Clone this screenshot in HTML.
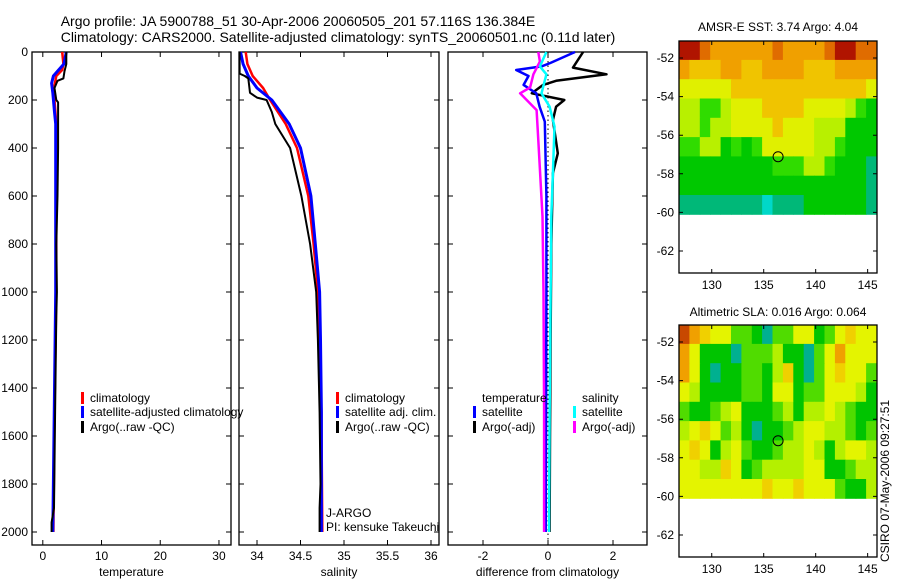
<!DOCTYPE html>
<html><head><meta charset="utf-8"><style>
html,body{margin:0;padding:0;background:#fff;}
svg{display:block;font-family:"Liberation Sans",sans-serif;}
</style></head><body>
<svg id="fig" width="900" height="580" viewBox="0 0 900 580" xmlns="http://www.w3.org/2000/svg">
<text x="298" y="26" font-size="14" text-anchor="middle">Argo profile: JA 5900788_51 30-Apr-2006 20060505_201 57.116S 136.384E</text>
<text x="338" y="42" font-size="14" text-anchor="middle">Climatology: CARS2000. Satellite-adjusted climatology: synTS_20060501.nc (0.11d later)</text>
<g id="g"></g>
<text x="778" y="31" font-size="12" text-anchor="middle">AMSR-E SST: 3.74 Argo: 4.04</text>
<text x="778" y="316" font-size="12" text-anchor="middle">Altimetric SLA: 0.016 Argo: 0.064</text>
<text transform="translate(889,562) rotate(-90)" font-size="12">CSIRO 07-May-2006 09:27:51</text>
<text x="326" y="517" font-size="12">J-ARGO</text>
<text x="326" y="531" font-size="12">PI: kensuke Takeuchi</text>
</svg>
<script>
// ---- data ----
const tDepth = [0,50,75,100,150,200,300,600,1000,1500,2000];
const tClim  = [3.3,3.5,3.3,2.3,1.9,2.0,2.3,2.3,2.3,2.0,1.8];
const tSatDepth = [0,50,80,100,130,170,250,300,1000,2000];
const tSat   = [4.0,3.6,2.5,1.8,1.5,1.7,2.0,2.2,2.2,1.7];
const tArgoDepth = [0,50,80,110,120,150,200,210,250,400,600,800,1000,1100,1500,1900,1960,2000];
const tArgo  = [4.0,4.0,3.7,3.5,2.5,2.0,2.3,2.6,2.6,2.6,2.5,2.3,2.4,2.3,2.1,1.9,1.5,1.5];

const sDepth = [0,50,100,150,200,300,400,600,800,1000,1200,1500,2000];
const sClim  = [33.87,33.89,33.95,34.07,34.15,34.33,34.46,34.59,34.65,34.7,34.72,34.74,34.75];
const sSat   = [33.81,33.84,33.9,34.0,34.17,34.37,34.5,34.62,34.67,34.72,34.73,34.74,34.74];
const sArgoDepth = [0,90,100,110,170,190,200,250,300,400,600,800,1000,1200,1500,1800,1900,2000];
const sArgo  = [33.8,33.8,33.86,33.9,33.92,34.0,34.11,34.17,34.21,34.38,34.51,34.61,34.68,34.7,34.72,34.73,34.72,34.72];

const dTSatDepth = [0,46,60,75,100,137,172,228,290,600,1000,1500,2000];
const dTSat  = [0.83,0.07,-0.2,-0.98,-0.6,-0.75,-0.36,-0.26,-0.1,-0.05,-0.05,-0.06,-0.07];
const dTArgoDepth = [0,65,93,120,137,172,200,228,283,422,505,800,1200,1600,2000];
const dTArgo = [1.08,0.77,1.8,0.25,-0.15,-0.5,0.5,0.25,0.15,0.3,0.15,0.1,0.08,0.06,0.05];
const dSSatDepth = [0,60,93,172,228,311,505,685,1000,1500,2000];
const dSSat  = [-0.05,-0.25,-0.05,-0.2,0.05,0.2,0.15,0.1,0.08,0.05,0.03];
const dSArgoDepth = [0,40,93,148,172,242,367,685,1000,1500,2000];
const dSArgo = [-0.3,-0.25,-0.45,-0.55,-0.86,-0.35,-0.3,-0.17,-0.14,-0.12,-0.12];

const depthTicks = [0,200,400,600,800,1000,1200,1400,1600,1800,2000];
const tTicks = [0,10,20,30];
const sTicks = [34,34.5,35,35.5,36];
const dTicks = [-2,0,2];
const lonTicks = [130,135,140,145];
const latTicks = [-52,-54,-56,-58,-60,-62];

// SST colour-level grid: rows lat -51..-60 (1 deg), cols lon 127..146
const sstGrid = [
[9,9,8,7,7,7,7,7,7,8,7,7,7,7,8,9,9,8,8],
[7,6,6,6,7,7,6,6,7,7,7,7,6,6,6,7,7,7,7],
[5,5,5,5,5,6,6,6,6,6,6,6,6,6,6,6,6,6,5],
[4,4,3,3,4,5,5,5,6,6,6,6,5,5,5,5,4,3,2],
[4,4,3,4,4,5,5,5,5,6,5,5,5,4,4,4,2,2,2],
[3,3,4,4,2,3,2,3,5,5,5,5,5,4,4,3,2,2,2],
[2,2,2,2,2,2,2,2,2,3,3,3,4,4,3,2,2,2,1],
[2,2,2,2,2,2,2,2,2,2,2,2,2,2,2,2,2,2,1],
[1,1,1,1,1,1,1,1,0,1,1,1,2,2,2,2,2,2,1]];
const slaGrid = [
[7,6,5,4,4,2,2,1,0,2,2,4,4,1,2,4,5,4,4],
[6,4,1,1,1,0,2,2,2,3,1,1,0,2,4,6,4,4,4],
[6,4,1,0,1,1,2,2,1,3,5,1,0,2,4,5,4,4,2],
[4,3,1,1,1,1,2,2,1,4,4,1,2,2,4,4,4,3,1],
[2,1,1,2,3,4,1,1,1,2,3,1,3,3,4,3,2,1,1],
[3,4,5,4,2,3,1,0,1,1,2,3,4,4,3,3,2,1,2],
[4,5,4,1,3,4,2,1,1,2,3,3,4,3,1,3,4,4,3],
[4,4,3,3,5,4,1,2,3,3,3,3,4,4,1,1,2,3,3],
[4,4,4,4,4,4,4,4,5,4,4,5,4,4,4,2,1,1,3]];
const sstColors = ['#00d8c8','#00b878','#00c800','#30dc00','#b8f000','#e0f000','#f0c400','#f0a000','#e06c00','#b01400'];
const slaColors = ['#00b090','#00c400','#50dc00','#b4f000','#e4f400','#f0d000','#f0a000','#c84800'];
const argoLon = 136.384, argoLat = -57.116;

// ---- drawing ----
const NS='http://www.w3.org/2000/svg';
const G=document.getElementById('g');
function mk(tag,attrs,parent){const e=document.createElementNS(NS,tag);for(const k in attrs)e.setAttribute(k,attrs[k]);(parent||G).appendChild(e);return e;}
const yTop=52, pxPerM=0.24;
const yD = d => yTop + d*pxPerM;
const panels = [
 {x0:32,x1:231,vmin:-1.84,vmax:32.05,ticks:tTicks,label:'temperature',name:'temperature'},
 {x0:239,x1:439,vmin:33.793,vmax:36.092,ticks:sTicks,label:'salinity',name:'salinity'},
 {x0:448,x1:647,vmin:-3.077,vmax:3.046,ticks:dTicks,label:'difference from climatology',name:'difference'}];
panels.forEach((p,i)=>{
  p.sx = v => p.x0 + (v-p.vmin)/(p.vmax-p.vmin)*(p.x1-p.x0);
  const fr=mk('rect',{x:p.x0,y:52,width:p.x1-p.x0,height:493,fill:'none',stroke:'#000','stroke-width':1.3});
  
  
  p.ticks.forEach(t=>{
    const x=p.sx(t);
    const l=mk('path',{d:`M${x} 545v-5M${x} 52v5`,stroke:'#000'});
    
    
    const tx=mk('text',{x:x,y:560,'font-size':12,'text-anchor':'middle'});
    
    
    tx.textContent=t;
  });
  depthTicks.forEach(d=>{
    const y=yD(d);
    const l=mk('path',{d:`M${p.x0} ${y}h5M${p.x1} ${y}h-5`,stroke:'#000'});
    
    
    if(i===0){
      const tx=mk('text',{x:28,y:y+4,'font-size':12,'text-anchor':'end'});
      
      
      tx.textContent=d;
    }
  });
  const xl=mk('text',{x:(p.x0+p.x1)/2,y:576,'font-size':12,'text-anchor':'middle'});
  
  
  xl.textContent=p.label;
});
// zero dotted line
{const p=panels[2];const x=p.sx(0);
 const z=mk('line',{x1:x,x2:x,y1:52,y2:545,stroke:'#000','stroke-dasharray':'1.5 3'});
 
 }
function line(p,depths,vals,color,name,w){
  const pts=depths.map((d,k)=>p.sx(vals[k]).toFixed(1)+','+yD(d).toFixed(1)).join(' ');
  const e=mk('polyline',{points:pts,fill:'none',stroke:color,'stroke-width':w||2.5,'stroke-linejoin':'round'});
  
  
}
line(panels[0],tDepth,tClim,'#f00','temp-climatology-line');
line(panels[0],tSatDepth,tSat,'#00f','temp-satellite-line',3);
line(panels[0],tArgoDepth,tArgo,'#000','temp-argo-line',2);
line(panels[1],sDepth,sClim,'#f00','sal-climatology-line');
line(panels[1],sDepth,sSat,'#00f','sal-satellite-line',3);
line(panels[1],sArgoDepth,sArgo,'#000','sal-argo-line',2);
line(panels[2],dTArgoDepth,dTArgo,'#000','diff-temp-argo-line',2.5);
line(panels[2],dTSatDepth,dTSat,'#00f','diff-temp-satellite-line',2.5);
line(panels[2],dSArgoDepth,dSArgo,'#f0f','diff-sal-argo-line',2.5);
line(panels[2],dSSatDepth,dSSat,'#0ff','diff-sal-satellite-line',2.5);
// legends
function leg(x,y,color,txt,name){
  if(color){const m=mk('rect',{x:x-9,y:y-6,width:3,height:12,fill:color});
    
    }
  const t=mk('text',{x:x,y:y+4,'font-size':12});
  
  
  t.textContent=txt;
}
leg(90,398,'#f00','climatology','legend-temp-climatology');
leg(90,412,'#00f','satellite-adjusted climatology','legend-temp-satellite');
leg(90,427,'#000','Argo(..raw -QC)','legend-temp-argo');
leg(345,398,'#f00','climatology','legend-sal-climatology');
leg(345,412,'#00f','satellite adj. clim.','legend-sal-satellite');
leg(345,427,'#000','Argo(..raw -QC)','legend-sal-argo');
leg(482,398,null,'temperature','legend-temperature-header');
leg(482,412,'#00f','satellite','legend-diff-temp-satellite');
leg(482,427,'#000','Argo(-adj)','legend-diff-temp-argo');
leg(582,398,null,'salinity','legend-salinity-header');
leg(582,412,'#0ff','satellite','legend-diff-sal-satellite');
leg(582,427,'#f0f','Argo(-adj)','legend-diff-sal-argo');

// maps
const mx0=679, mx1=877, lonMin=126.85, lonMax=145.9;
const lx = lon => mx0 + (lon-lonMin)/(lonMax-lonMin)*(mx1-mx0);
function drawMap(top,bottom,lat52y,lat62y,grid,colors,name){
  const ly = lat => lat52y + (-52-lat)/10*(lat62y-lat52y);
  grid.forEach((row,r)=>row.forEach((v,c)=>{
    const x0=Math.max(mx0,lx(127+c-0.15)), x1=Math.min(mx1,lx(128+c-0.15));
    const yy0 = r===0?top:ly(-51-r-0.1);
    const yy1 = r===grid.length-1?ly(-60.1):ly(-52-r-0.1);
    const cell=mk('rect',{x:x0.toFixed(1),y:yy0.toFixed(1),width:(x1-x0+0.5).toFixed(1),height:(yy1-yy0+0.5).toFixed(1),fill:colors[v]});
    
    
  }));
  const fr=mk('rect',{x:mx0,y:top,width:mx1-mx0,height:bottom-top,fill:'none',stroke:'#000','stroke-width':1.3});
  
  
  lonTicks.forEach(l=>{const x=lx(l);
    const t=mk('path',{d:`M${x} ${bottom}v-4M${x} ${top}v4`,stroke:'#000'});
    
    
    const tx=mk('text',{x:x,y:bottom+16,'font-size':12,'text-anchor':'middle'});
    
    
    tx.textContent=l;});
  latTicks.forEach(l=>{const y=ly(l);
    const t=mk('path',{d:`M${mx0} ${y}h4M${mx1} ${y}h-4`,stroke:'#000'});
    
    
    const tx=mk('text',{x:mx0-5,y:y+4,'font-size':12,'text-anchor':'end'});
    
    
    tx.textContent=l;});
  const c=mk('circle',{cx:lx(argoLon),cy:ly(argoLat),r:5,fill:'none',stroke:'#000','stroke-width':1});
  
  
}
drawMap(41,273,58,251,sstGrid,sstColors,'sst-map');
drawMap(325,557,342,535,slaGrid,slaColors,'sla-map');
</script>
</body></html>
